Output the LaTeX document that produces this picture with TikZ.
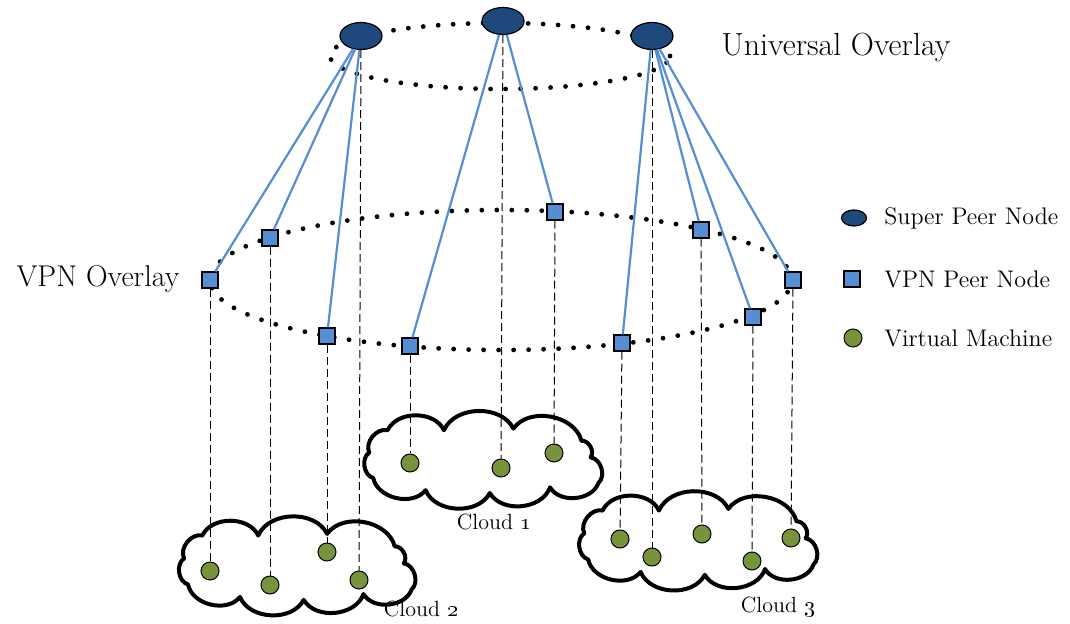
\documentclass[tikz,border=0pt]{standalone}
\usepackage{tikz}
\usetikzlibrary{shapes.geometric}

\definecolor{superblue}{RGB}{31,73,125}
\definecolor{peerblue}{RGB}{85,142,213}
\definecolor{vmgreen}{RGB}{119,147,60}

\tikzset{
  superpeer/.style={ellipse, draw=black, line width=0.6pt, fill=superblue, minimum width=21pt, minimum height=13.5pt, inner sep=0pt},
  vpnpeer/.style={rectangle, draw=black, line width=0.6pt, fill=peerblue, minimum size=8pt, inner sep=0pt},
  vmnode/.style={circle, draw=black, line width=0.5pt, fill=vmgreen, minimum size=9pt, inner sep=0pt},
  ring/.style={line width=2.4pt, line cap=round, dash pattern=on 0pt off 7.5pt},
  peerlink/.style={draw=peerblue, line width=1.1pt},
  vmlink/.style={draw=black, line width=0.5pt, dash pattern=on 4pt off 2pt},
  lbl/.style={font=\fontsize{12}{14}\selectfont, anchor=west, inner sep=0pt},
  pics/puffcloud/.style 2 args={code={
    \draw [line width=2pt, line join=round, fill=white, bend left=65]
      ({-0.69*#1},{-0.71*#2}) to ({-0.26*#1},{-0.71*#2}) to ({0.27*#1},{-0.75*#2})
      to ({0.79*#1},{-0.45*#2}) to ({0.86*#1},{-0.04*#2}) to ({0.92*#1},{0.59*#2})
      to ({0.55*#1},{0.70*#2}) to ({0.09*#1},{0.84*#2}) to ({-0.40*#1},{0.77*#2})
      to ({-0.80*#1},{0.47*#2}) to ({-0.83*#1},{-0.16*#2}) to ({-0.69*#1},{-0.71*#2}) -- cycle;
  }}
}

\begin{document}
\begin{tikzpicture}[x=0.5pt, y=-0.5pt]
	\useasboundingbox (0,0) rectangle (1070,624);
	%\draw [help lines, step=50] (0,0) grid (1070,624);

	% the two overlays
	\draw [ring] (500,56) ellipse [x radius=85pt, y radius=16.5pt];
	\draw [ring] (501,280) ellipse [x radius=145.5pt, y radius=35pt];

	% clouds
	\pic (c1) at (478,459) {puffcloud={131}{40.5}};
	\pic (c2) at (292,565) {puffcloud={130}{41.5}};
	\pic (c3) at (693,540) {puffcloud={131}{41.5}};
	\node at (494,522) {\fontsize{11}{13}\selectfont Cloud \oldstylenums{1}};
	\node at (421,609) {\fontsize{11}{13}\selectfont Cloud \oldstylenums{2}};
	\node at (778,607) {\fontsize{11}{13}\selectfont Cloud \oldstylenums{3}};

	% super peers
	\node [superpeer] (s1) at (361,36) {};
	\node [superpeer] (s2) at (503,21) {};
	\node [superpeer] (s3) at (652,36) {};

	% vpn peers
	\node [vpnpeer] (v1) at (210,280) {};
	\node [vpnpeer] (v2) at (270,238) {};
	\node [vpnpeer] (v3) at (327,336) {};
	\node [vpnpeer] (v4) at (410,346) {};
	\node [vpnpeer] (v5) at (555,212) {};
	\node [vpnpeer] (v6) at (622,343) {};
	\node [vpnpeer] (v7) at (701,230) {};
	\node [vpnpeer] (v8) at (753,317) {};
	\node [vpnpeer] (v9) at (793,280) {};

	% virtual machines
	\node [vmnode] (m1) at (410,463) {};
	\node [vmnode] (m2) at (501,468) {};
	\node [vmnode] (m3) at (554,453) {};
	\node [vmnode] (m4) at (210,571) {};
	\node [vmnode] (m5) at (270,585) {};
	\node [vmnode] (m6) at (327,552) {};
	\node [vmnode] (m7) at (359,580) {};
	\node [vmnode] (m8) at (620,539) {};
	\node [vmnode] (m9) at (652,557) {};
	\node [vmnode] (m10) at (702,534) {};
	\node [vmnode] (m11) at (752,561) {};
	\node [vmnode] (m12) at (791,538) {};

	% dashed drops
	\draw [vmlink] (v1) -- (m4);
	\draw [vmlink] (v2) -- (m5);
	\draw [vmlink] (v3) -- (m6);
	\draw [vmlink] (s1) -- (m7);
	\draw [vmlink] (v4) -- (m1);
	\draw [vmlink] (s2) -- (m2);
	\draw [vmlink] (v5) -- (m3);
	\draw [vmlink] (v6) -- (m8);
	\draw [vmlink] (s3) -- (m9);
	\draw [vmlink] (v7) -- (m10);
	\draw [vmlink] (v8) -- (m11);
	\draw [vmlink] (v9) -- (m12);

	% super peer links
	\draw [peerlink] (s1) -- (v1);
	\draw [peerlink] (s1) -- (v2);
	\draw [peerlink] (s1) -- (v3);
	\draw [peerlink] (s2) -- (v4);
	\draw [peerlink] (s2) -- (v5);
	\draw [peerlink] (s3) -- (v6);
	\draw [peerlink] (s3) -- (v7);
	\draw [peerlink] (s3) -- (v8);
	\draw [peerlink] (s3) -- (v9);

	% overlay names
	\node (uo) at (836,48) {\fontsize{16}{19}\selectfont Universal Overlay};
	\node (vo) at (98,279) {\fontsize{15}{18}\selectfont VPN Overlay};

	% legend
	\node [superpeer, minimum width=12.5pt, minimum height=8pt] (k1) at (854,218) {};
	\node [vpnpeer] (k2) at (852,279) {};
	\node [vmnode] (k3) at (853,338) {};
	\node [lbl] at (884,218) {Super Peer Node};
	\node [lbl] at (884,279) {VPN Peer Node};
	\node [lbl] at (884,338) {Virtual Machine};
\end{tikzpicture}
\end{document}
